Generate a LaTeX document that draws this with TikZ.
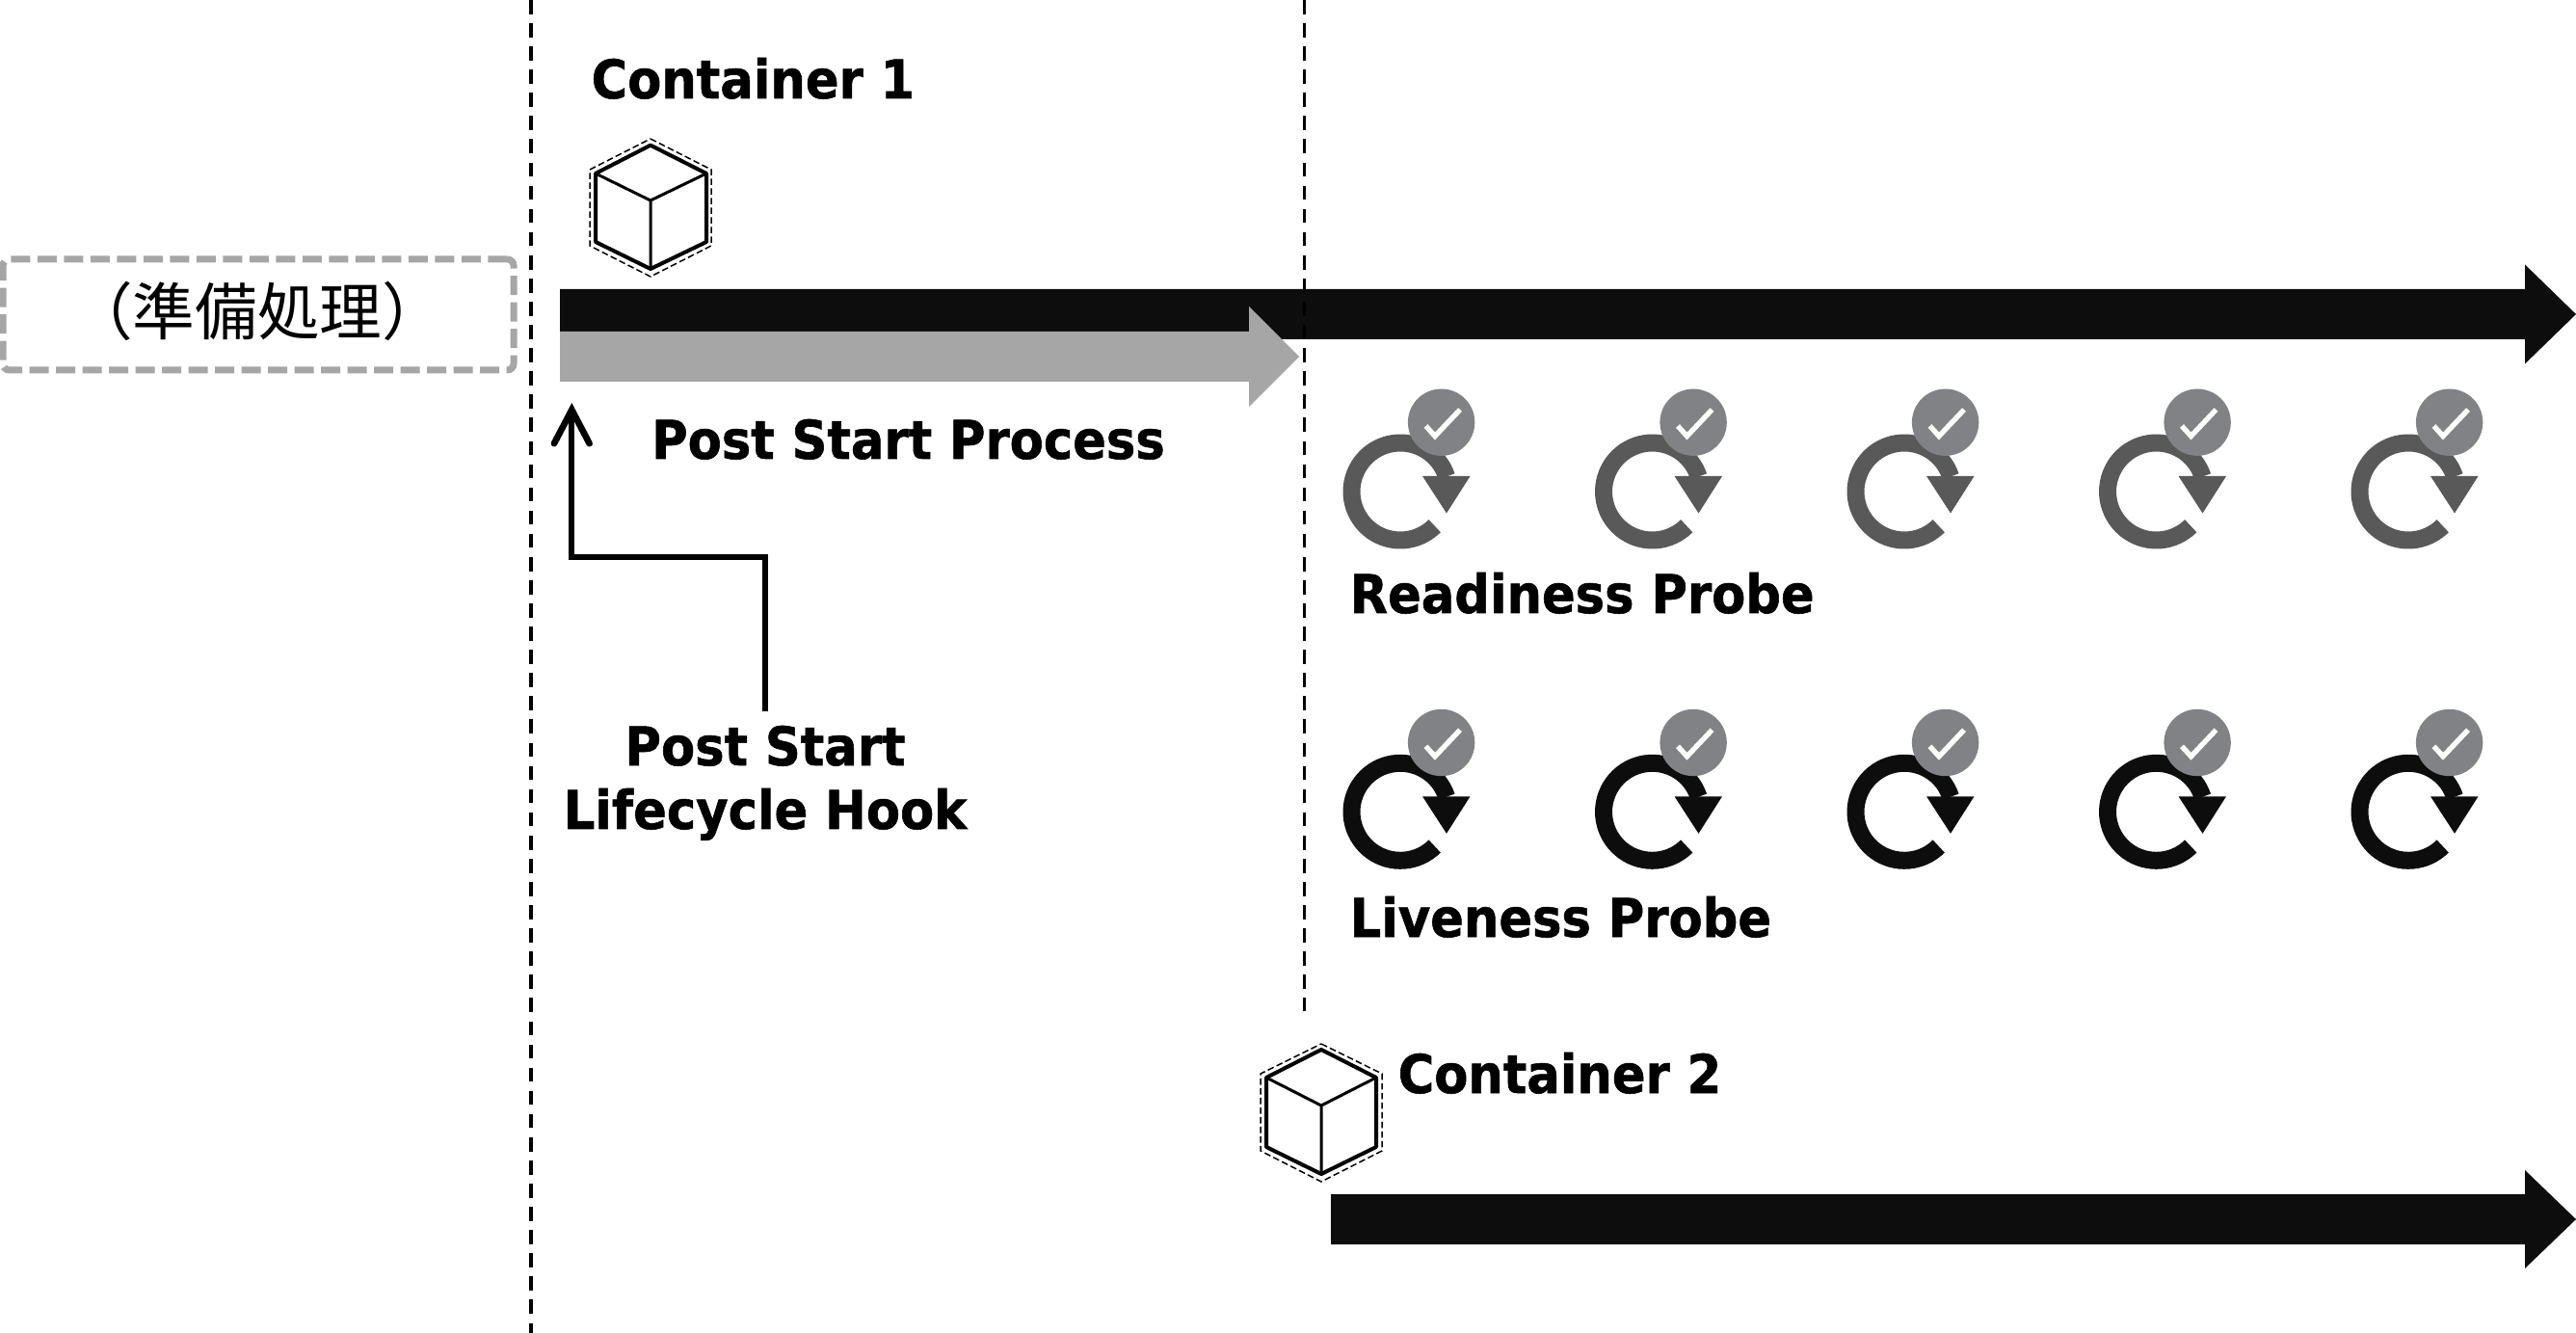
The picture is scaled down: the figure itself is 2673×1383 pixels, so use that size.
\documentclass[tikz,border=0pt]{standalone}
\usepackage{fontspec}
\setmainfont{DejaVu Sans}
\newfontfamily\labfont[FakeStretch=0.925,FakeBold=1]{DejaVu Sans Bold}
\newfontfamily\cjk{Noto Sans CJK JP}
\usetikzlibrary{arrows.meta}
\definecolor{barblack}{HTML}{0D0D0D}
\definecolor{bargray}{HTML}{A6A6A6}
\definecolor{ringgray}{HTML}{595959}
\definecolor{discgray}{HTML}{808285}
\tikzset{
  x=0.3pt,y=-0.3pt,
  lab/.style={font=\labfont\fontsize{16.6}{20}\selectfont,inner sep=0pt,text=black},
  vline/.style={black,line width=1pt,dash pattern=on 4.4pt off 2.824pt},
  cubedash/.style={black,line width=0.45pt,dash pattern=on 2pt off 1pt},
  hookline/.style={black,line width=1.9pt,-{Straight Barb[length=10.5pt,width=11pt,line width=2pt,line cap=round,line join=miter]}},
}
\newcommand{\cubeicon}[8]{% cx, top, bot, left, right, shoulder, lower, mid
  \draw[black,line width=1.2pt,line join=round] (#1,#2)--(#5,#6)--(#5,#7)--(#1,#3)--(#4,#7)--(#4,#6)--cycle;
  \draw[black,line width=0.9pt,line join=round] (#4,#6)--(#1,#8)--(#5,#6) (#1,#8)--(#1,#3);
}
\newcommand{\probeicon}[3]{% cx, cy, colour
  \begin{scope}[shift={(#1,#2)}]
    \draw[#3,line width=5.4pt] plot[smooth,samples=60,domain=45:342] ({50.5*cos(\x)},{50.5*sin(\x)});
    \fill[#3] (23,-16)--(72.5,-16)--(48,22.5)--cycle;
    \fill[discgray] (42.6,-71.8) circle[radius=34.7];
    \draw[white,line width=1.6pt] (26.5,-68)--(36,-57.5)--(62,-85);
  \end{scope}
}
\begin{document}
\begin{tikzpicture}
\useasboundingbox (0,0) rectangle (2673,1383);
% dashed guide lines
\coordinate (g1a) at (551,0); \coordinate (g1b) at (551,1383);
\coordinate (g2a) at (1353.5,0); \coordinate (g2b) at (1353.5,1049);
% arrows
\fill[barblack] (581,300)--(2620,300)--(2620,274.5)--(2673,326)--(2620,377.5)--(2620,352)--(581,352)--cycle;
\fill[bargray] (581,344)--(1296,344)--(1296,318)--(1348,370)--(1296,422)--(1296,396)--(581,396)--cycle;
\fill[barblack] (1381,1239)--(2620,1239)--(2620,1214)--(2673,1265)--(2620,1316)--(2620,1291)--(1381,1291)--cycle;
\draw[vline] (g1a)--(g1b);
\draw[vline] (g2a)--(g2b);
% preparation box
\node[draw=bargray,line width=2.1pt,dash pattern=on 6pt off 2.25pt,rounded corners=2pt,minimum width=159pt,minimum height=34.5pt,inner sep=0pt,anchor=center] (prep) at (268,326.5) {};
\node[font=\cjk\fontsize{19.4}{22}\selectfont,inner sep=0pt,anchor=center] (preptext) at (267,323) {（準備処理）};
% cubes
\draw[cubedash] (675,144)--(738,176)--(738,255)--(675,287)--(612,255)--(612,176)--cycle;
\cubeicon{675}{150.7}{279}{618}{733}{180}{251}{208}
\draw[cubedash] (1371,1083)--(1434,1114)--(1434,1194)--(1371,1226)--(1308,1194)--(1308,1114)--cycle;
\cubeicon{1371}{1089}{1218}{1314}{1428}{1118}{1190}{1147}
% probes
\foreach \i in {0,1,2,3,4} {
  \probeicon{1453+261.5*\i}{510}{ringgray}
  \probeicon{1453+261.5*\i}{842.3}{barblack}
}
% labels
\node[lab,anchor=base west] (c1) at (613,102) {Container 1};
\node[lab,anchor=base west] (psp) at (675.5,476) {Post Start Process};
\node[lab,anchor=base west] (rp) at (1400,636) {Readiness Probe};
\node[lab,anchor=base west] (lp) at (1400,972) {Liveness Probe};
\node[lab,anchor=base] (h1) at (794,794) {Post Start};
\node[lab,anchor=base] (h2) at (794,860) {Lifecycle Hook};
\node[lab,anchor=base west] (c2) at (1450,1134) {Container 2};
% hook
\coordinate (hs) at (794,737.7);
\coordinate (hc) at (794,577.7);
\coordinate (hd) at (593.3,577.7);
\coordinate (ht) at (593.3,418);
\draw[hookline] (hs)--(hc)--(hd)--(ht);
\end{tikzpicture}
\end{document}
